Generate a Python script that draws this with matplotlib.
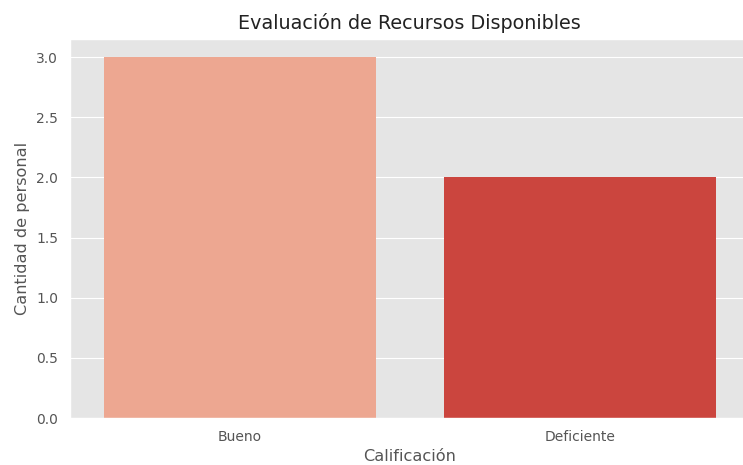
import matplotlib
matplotlib.use("Agg")
import matplotlib.pyplot as plt
import seaborn as sns

plt.style.use("ggplot")

calificaciones = ["Bueno", "Deficiente"]
cantidad = [3, 2]

fig = plt.figure(figsize=(7.43, 4.65), dpi=100)
ax = fig.add_axes([0.094, 0.101, 0.915, 0.815])

sns.barplot(x=calificaciones, y=cantidad, hue=calificaciones, palette="Reds", legend=False, ax=ax)

ax.set_title("Evaluación de Recursos Disponibles", fontsize=13.8, color="#222222", pad=7)
ax.set_xlabel("Calificación", fontsize=11.6)
ax.set_ylabel("Cantidad de personal", fontsize=11.6)
ax.tick_params(labelsize=10, color="none", pad=5)

fig.savefig("out.png", dpi=100)
